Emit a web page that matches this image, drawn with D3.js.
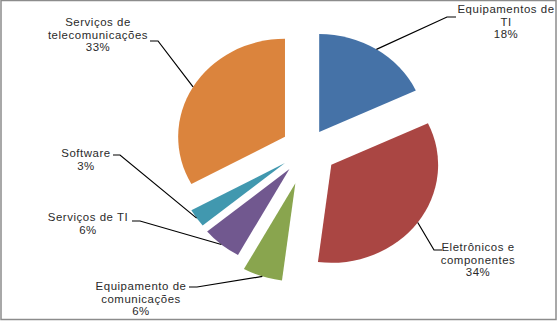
<!DOCTYPE html>
<html>
<head>
<meta charset="utf-8">
<script src="https://cdn.jsdelivr.net/npm/d3@7"></script>
<style>
  body { margin: 0; background: #fff; }
  text { font-family: "Liberation Sans", Arial, sans-serif; font-size: 10.5px; fill: #2a2a2a; letter-spacing: 0.5px; }
</style>
</head>
<body>
<script>
const width = 559;
const height = 322;

// data
const categories = [
  'Equipamentos de TI',
  'Eletrônicos e componentes',
  'Equipamento de comunicações',
  'Serviços de TI',
  'Software',
  'Serviços de telecomunicações'
];
const values = [18, 34, 6, 6, 3, 33];
const labelLines = [
  ['Equipamentos de', 'TI', '18%'],
  ['Eletrônicos e', 'componentes', '34%'],
  ['Equipamento de', 'comunicações', '6%'],
  ['Serviços de TI', '6%'],
  ['Software', '3%'],
  ['Serviços de', 'telecomunicações', '33%']
];

// style / layout
const colors = ['#4572a7', '#aa4643', '#89a54e', '#71588f', '#4198af', '#db843d'];
const explode = [20, 27, 36, 26, 25, 24];
const cx = 307.5, cy = 149, radius = 98, sx = 1.09;
// label text centre (x, first line y) and the elbow of the leader line
const labelPos = [
  { x: 506, y: 13, elbow: [447, 17], end: [456, 17] },
  { x: 478, y: 251, elbow: [434, 250], end: [442, 250] },
  { x: 141, y: 290, elbow: [197, 287], end: [189, 287] },
  { x: 88, y: 221, elbow: [140, 221], end: [132, 221] },
  { x: 86, y: 157, elbow: [120, 155], end: [113, 155] },
  { x: 98, y: 26, elbow: [158, 41], end: [150, 41] }
];
const lineH = 12.7;

const svg = d3.select('body')
  .append('svg')
    .attr('width', width)
    .attr('height', height);

svg.append('rect')
  .attr('x', 1).attr('y', 0.5)
  .attr('width', 555).attr('height', 319)
  .attr('fill', '#fff')
  .attr('stroke', '#8c8c8c')
  .attr('stroke-width', 1.5);

const pie = d3.pie().sort(null).value(d => d)(values);
const arc = d3.arc().innerRadius(0).outerRadius(radius);

const mid = (d) => (d.startAngle + d.endAngle) / 2;
const offset = (d, i, r) => [
  cx + (explode[i] + r) * Math.sin(mid(d)) * sx,
  cy - (explode[i] + r) * Math.cos(mid(d))
];

const slices = svg.append('g');

slices.selectAll('path')
  .data(pie)
  .enter()
    .append('path')
    .attr('transform', (d, i) => {
      const [x, y] = offset(d, i, 0);
      return `translate(${x},${y}) scale(${sx},1)`;
    })
    .attr('fill', (d, i) => colors[i])
    .attr('d', arc);

const leaders = svg.append('g');

leaders.selectAll('polyline')
  .data(pie)
  .enter()
    .append('polyline')
    .attr('fill', 'none')
    .attr('stroke', '#000')
    .attr('stroke-width', 1.2)
    .attr('points', (d, i) => [offset(d, i, radius), labelPos[i].elbow, labelPos[i].end]
      .map(p => p.join(',')).join(' '));

const labels = svg.append('g');

labels.selectAll('text')
  .data(pie)
  .enter()
    .append('text')
    .attr('text-anchor', 'middle')
    .attr('transform', (d, i) => `translate(${labelPos[i].x},${labelPos[i].y}) scale(${sx},1)`)
    .each(function(d, i) {
      d3.select(this).selectAll('tspan')
        .data(labelLines[i])
        .enter()
          .append('tspan')
          .attr('x', 0)
          .attr('y', (t, j) => j * lineH)
          .text(t => t);
    });
</script>
</body>
</html>
